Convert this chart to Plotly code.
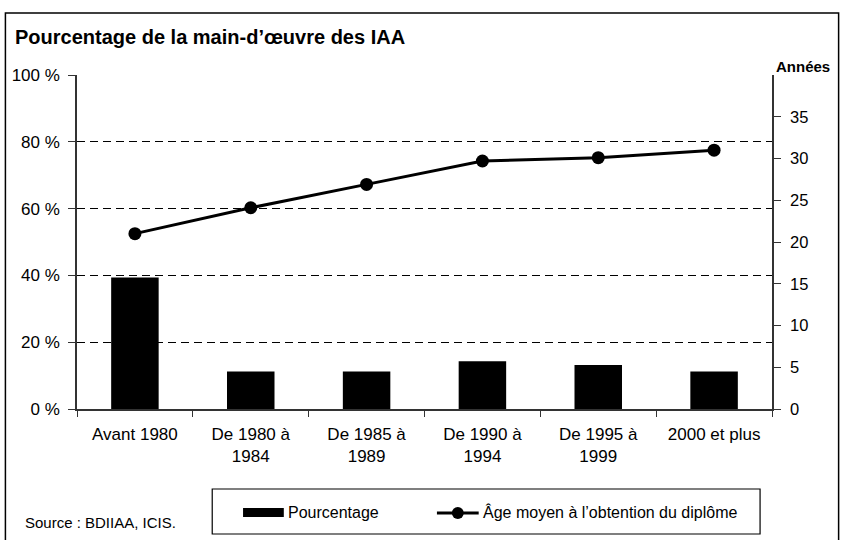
import plotly.graph_objects as go

# values
categories = ["Avant 1980", "De 1980 à<br>1984", "De 1985 à<br>1989",
              "De 1990 à<br>1994", "De 1995 à<br>1999", "2000 et plus"]
pourcentage = [39.4, 11.2, 11.2, 14.3, 13.2, 11.2]
age_moyen = [21.0, 24.1, 26.9, 29.7, 30.1, 31.0]
pct_ticks = [0, 20, 40, 60, 80, 100]
pct_labels = ["0 %", "20 %", "40 %", "60 %", "80 %", "100 %"]
age_ticks = [0, 5, 10, 15, 20, 25, 30, 35]

FONT = "Liberation Sans, Arial, sans-serif"
W, H = 841, 540
L, R, T, B = 73, 772, 75, 409   # plot area in pixels


def px(x):
    return (x - L) / (R - L)


def py(y):
    return (B - y) / (B - T)


fig = go.Figure()
fig.add_trace(go.Bar(x=categories, y=pourcentage, marker_color="black",
                     marker_line_width=0, name="Pourcentage", yaxis="y"))
fig.add_trace(go.Scatter(x=categories, y=age_moyen, yaxis="y2", mode="lines+markers",
                         line=dict(color="black", width=3),
                         marker=dict(size=13, color="black"),
                         name="Âge moyen à l’obtention du diplôme"))

axis_common = dict(showline=True, linecolor="#333", linewidth=1.5, ticks="outside",
                   ticklen=7, tickcolor="#333", tickwidth=1.2)

fig.update_layout(
    width=W, height=H,
    margin=dict(l=L, r=W - R, t=T, b=H - B, pad=0),
    paper_bgcolor="white", plot_bgcolor="white",
    showlegend=False, bargap=0.59,
    font=dict(family=FONT, color="black"),
    xaxis=dict(type="category", tickson="boundaries", range=[-0.5, 5.5],
               showgrid=False, ticklabelstandoff=9,
               tickfont=dict(family=FONT, size=17, color="black"),
               **{**axis_common, "ticklen": 6}),
    yaxis=dict(range=[0, 100], tickvals=pct_ticks, ticktext=pct_labels,
               showgrid=True, gridcolor="black", gridwidth=1, griddash="8px,5px",
               zeroline=False, ticklabelstandoff=5,
               tickfont=dict(family=FONT, size=17, color="black"), **axis_common),
    yaxis2=dict(range=[0, 40], tickvals=age_ticks, overlaying="y", side="right",
                showgrid=False, zeroline=False, ticklabelstandoff=6,
                tickfont=dict(family=FONT, size=16.5, color="black"), **axis_common),
    # inner halves of the crossing ticks
    yaxis3=dict(range=[0, 100], tickvals=pct_ticks, overlaying="y", side="left",
                ticks="inside", ticklen=7, tickcolor="#333", tickwidth=1.2,
                showticklabels=False, showgrid=False, zeroline=False, showline=False),
    yaxis4=dict(range=[0, 40], tickvals=age_ticks, overlaying="y", side="right",
                ticks="inside", ticklen=7, tickcolor="#333", tickwidth=1.2,
                showticklabels=False, showgrid=False, zeroline=False, showline=False),
)

# outer frame
fig.add_shape(type="rect", xref="paper", yref="paper",
              x0=px(1), x1=px(839), y0=py(560), y1=py(13),
              line=dict(color="black", width=1.5), layer="below")

# title and right axis caption
fig.add_annotation(text="<b>Pourcentage de la main-d’œuvre des IAA</b>", xref="paper", yref="paper",
                   x=px(9), y=py(37), xanchor="left", yanchor="middle", showarrow=False,
                   font=dict(family=FONT, size=20, color="black"))
fig.add_annotation(text="<b>Années</b>", xref="paper", yref="paper",
                   x=px(774), y=py(66), xanchor="left", yanchor="middle", showarrow=False,
                   font=dict(family=FONT, size=15, color="black"))

# source
fig.add_annotation(text="Source : BDIIAA, ICIS.", xref="paper", yref="paper",
                   x=px(19), y=py(522), xanchor="left", yanchor="middle", showarrow=False,
                   font=dict(family=FONT, size=15, color="black"))

# legend drawn by hand
fig.add_shape(type="rect", xref="paper", yref="paper",
              x0=px(209), x1=px(760), y0=py(534), y1=py(489),
              line=dict(color="black", width=1.2), fillcolor="white")
fig.add_shape(type="rect", xref="paper", yref="paper",
              x0=px(240), x1=px(281), y0=py(517), y1=py(508),
              line=dict(width=0), fillcolor="black")
fig.add_annotation(text="Pourcentage", xref="paper", yref="paper",
                   x=px(283), y=py(512), xanchor="left", yanchor="middle", showarrow=False,
                   font=dict(family=FONT, size=16, color="black"))
fig.add_shape(type="line", xref="paper", yref="paper",
              x0=px(435), x1=px(477), y0=py(513), y1=py(513),
              line=dict(color="black", width=3))
fig.add_shape(type="circle", xref="paper", yref="paper",
              x0=px(450), x1=px(462), y0=py(519), y1=py(507),
              line=dict(width=0), fillcolor="black")
fig.add_annotation(text="Âge moyen à l’obtention du diplôme", xref="paper", yref="paper",
                   x=px(479), y=py(512), xanchor="left", yanchor="middle", showarrow=False,
                   font=dict(family=FONT, size=16, color="black"))

# drop the default page margin so the figure sits at the window corner
fig.write_html("out.html", config={"displayModeBar": False},
               post_script="document.body.style.margin='0';document.body.style.overflow='hidden';")
